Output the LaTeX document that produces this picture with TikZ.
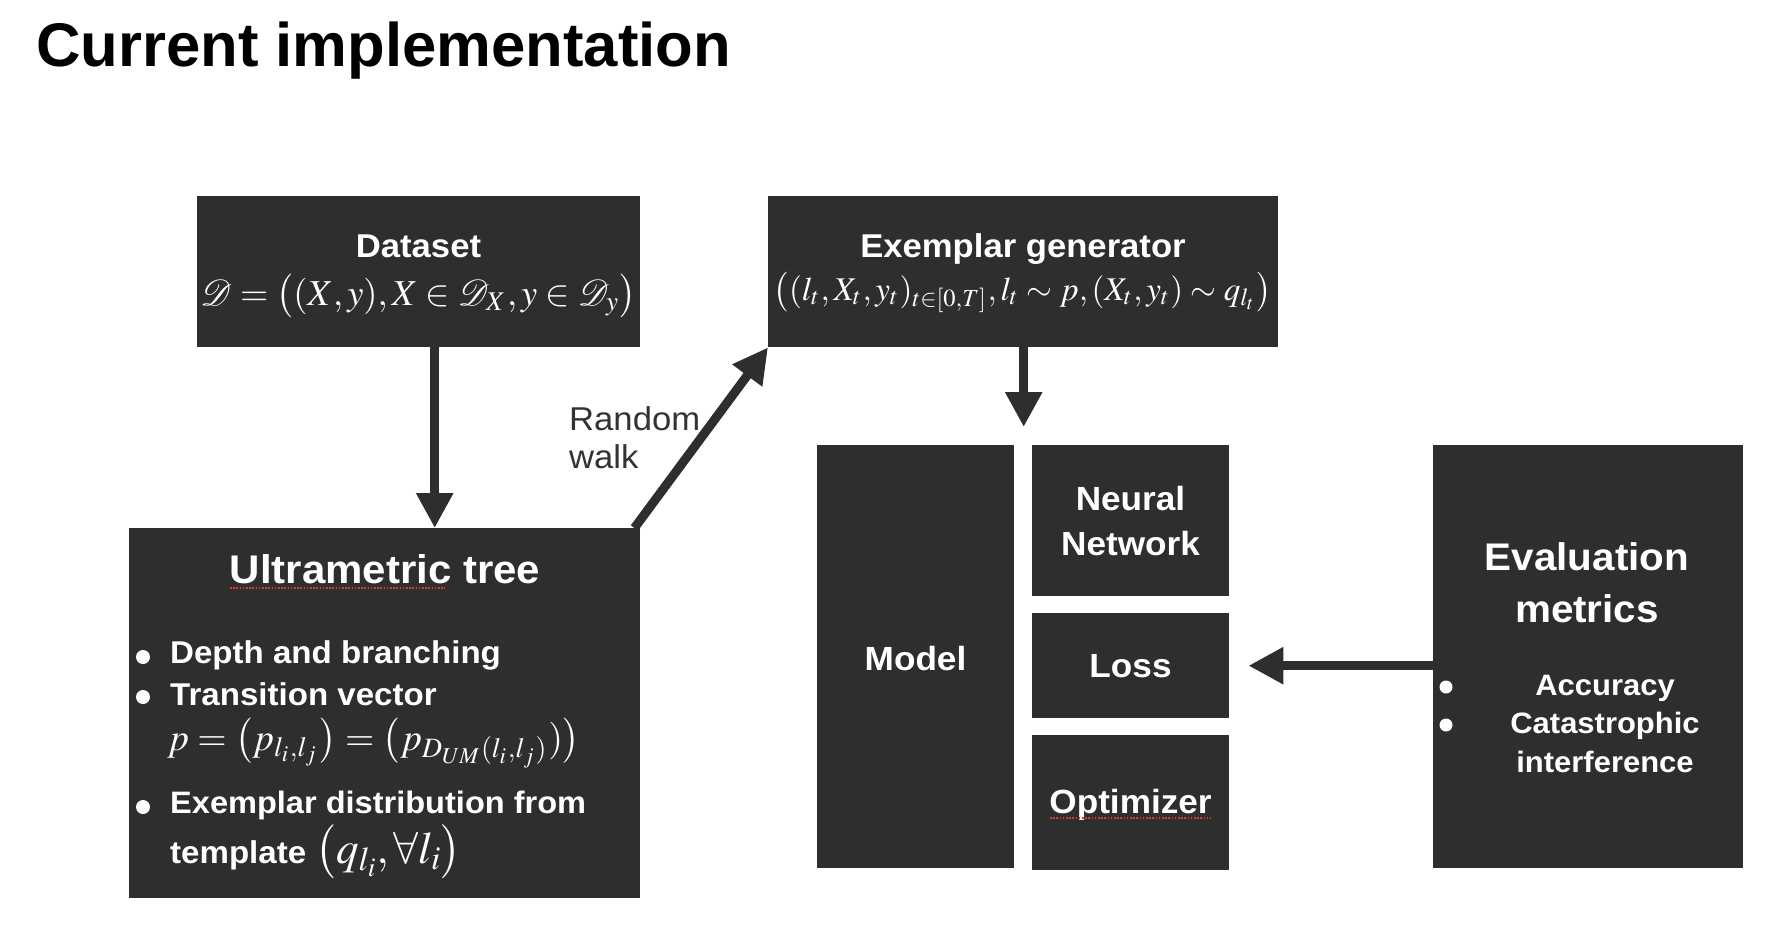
\documentclass[tikz,border=0pt]{standalone}
\usepackage{mathptmx}
\usepackage{mathrsfs}
\usepackage{graphicx}
\usepackage{fontspec}
\setmainfont{Liberation Sans}[FakeStretch=1.05]
\newfontfamily\titlefont{Liberation Sans}
\usetikzlibrary{arrows.meta}
\definecolor{boxgray}{RGB}{46,46,46}
\definecolor{txtgray}{RGB}{51,51,51}
\definecolor{squig}{RGB}{215,60,50}
\newcommand{\setfs}[1]{\fontsize{#1}{#1}\selectfont}
\begin{document}
\begin{tikzpicture}[x=1pt,y=-1pt,
  blk/.style={fill=boxgray,draw=none,inner sep=0pt,anchor=north west},
  wt/.style={text=white,inner sep=0pt,anchor=base},
  wtl/.style={text=white,inner sep=0pt,anchor=base west},
  arr/.style={draw=boxgray,line width=9pt,-{Triangle[width=35pt,length=35pt]}},
  squiggle/.style={draw=squig,line width=1.6pt,dash pattern=on 1.6pt off 1.6pt},
  bul/.style={fill=white}]
\useasboundingbox[fill=white] (0,0) rectangle (1782,928);

% title
\node[anchor=base west,inner sep=0pt,font=\titlefont\bfseries\setfs{61.6}] (title) at (36,67) {Current implementation};

% boxes
\node[blk,minimum width=443pt,minimum height=151pt] (ds) at (197,196) {};
\node[blk,minimum width=510pt,minimum height=151pt] (ex) at (768,196) {};
\node[blk,minimum width=511pt,minimum height=370pt] (ut) at (129,528) {};
\node[blk,minimum width=197pt,minimum height=423pt] (md) at (817,445) {};
\node[blk,minimum width=197pt,minimum height=151pt] (nn) at (1032,445) {};
\node[blk,minimum width=197pt,minimum height=105pt] (lo) at (1032,613) {};
\node[blk,minimum width=197pt,minimum height=135pt] (op) at (1032,735) {};
\node[blk,minimum width=310pt,minimum height=423pt] (ev) at (1433,445) {};

% dataset
\node[wt,font=\bfseries\setfs{33}] (dst) at (418.5,257) {Dataset};
\node[wt] (dsf) at (418.5,305) {\resizebox{436pt}{!}{$\mathscr{D}=\big((X,y),X\in\mathscr{D}_X,y\in\mathscr{D}_y\big)$}};

% exemplar generator
\node[wt,font=\bfseries\setfs{33}] (ext) at (1023,257) {Exemplar generator};
\node[wt] (exf) at (1023,300) {\resizebox{498pt}{!}{$\big((l_t,X_t,y_t)_{t\in[0,T]},l_t\sim p,(X_t,y_t)\sim q_{l_t}\big)$}};

% ultrametric tree
\node[wt,font=\bfseries\setfs{40}] (utt) at (385,583) {Ultrametric tree};
\draw[squiggle] (230,588) -- (445,588);
\fill[bul] (143,657) circle[radius=7pt];
\fill[bul] (143,697) circle[radius=7pt];
\fill[bul] (143,807) circle[radius=7pt];
\node[wtl,font=\bfseries\setfs{31.5}] (u1) at (170,663) {Depth and branching};
\node[wtl,font=\bfseries\setfs{31.5}] (u2) at (170,705) {Transition vector};
\node[wtl] (u3) at (167,750) {\resizebox{413pt}{!}{$p=\big(p_{l_i,l_j}\big)=\big(p_{D_{UM}(l_i,l_j)})\big)$}};
\node[wtl,font=\bfseries\setfs{31}] (u4) at (170,813) {Exemplar distribution from};
\node[wtl,font=\bfseries\setfs{31.5}] (u5) at (170,863) {template {\setfs{45}$\big(q_{l_i},\forall l_i\big)$}};

% model group
\node[wt,font=\bfseries\setfs{33.5}] (mdt) at (915.5,670) {Model};
\node[wt,font=\bfseries\setfs{33.5}] (nnt1) at (1130.5,510) {Neural};
\node[wt,font=\bfseries\setfs{33.5}] (nnt2) at (1130.5,555) {Network};
\node[wt,font=\bfseries\setfs{33.5}] (lot) at (1130.5,677) {Loss};
\node[wt,font=\bfseries\setfs{33.5}] (opt) at (1130.5,813) {Optimizer};
\draw[squiggle] (1050,818) -- (1211,818);

% evaluation
\node[wt,font=\bfseries\setfs{38.5}] (evt1) at (1587,570) {Evaluation};
\node[wt,font=\bfseries\setfs{38.5}] (evt2) at (1587,622) {metrics};
\fill[bul] (1446,687) circle[radius=6.5pt];
\fill[bul] (1446,725) circle[radius=6.5pt];
\node[wt,font=\bfseries\setfs{29.5}] (ev1) at (1605,695) {Accuracy};
\node[wt,font=\bfseries\setfs{29.5}] (ev2) at (1605,733) {Catastrophic};
\node[wt,font=\bfseries\setfs{29.5}] (ev3) at (1605,772) {interference};

% random walk label
\node[anchor=base west,inner sep=0pt,text=txtgray,font=\setfs{33}] (rw1) at (569,430) {Random};
\node[anchor=base west,inner sep=0pt,text=txtgray,font=\setfs{33}] (rw2) at (569,468) {walk};

% connectors
\coordinate (dsx) at ([xshift=16pt]ds.south);
\draw[arr] (dsx) -- (dsx |- ut.north);
\coordinate (exx) at ([xshift=0.5pt]ex.south);
\coordinate (exend) at (exx |- md.north);
\draw[arr] (exx) -- ([yshift=18pt]exend);
\draw[arr] (ev.west |- lo.east) -- ([xshift=19pt]lo.east);
\draw[arr] ([xshift=-6pt]ut.north east) -- (ex.south west);
\end{tikzpicture}
\end{document}
